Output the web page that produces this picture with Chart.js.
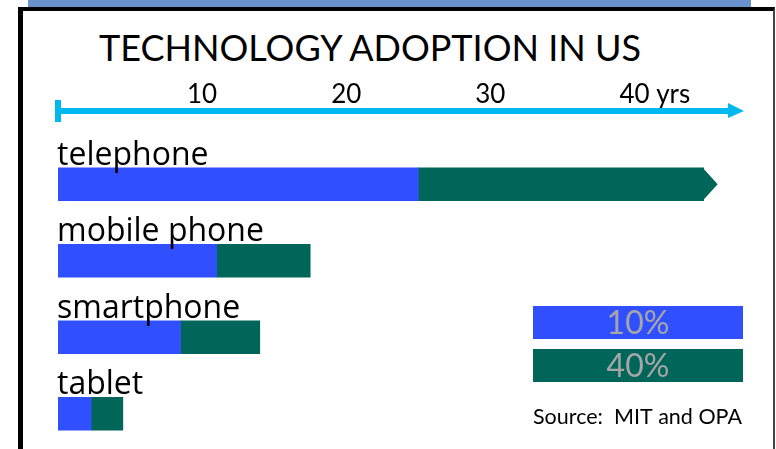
<!DOCTYPE html>
<html>
<head>
<meta charset="utf-8">
<script src="https://cdn.jsdelivr.net/npm/chart.js@4.4.0/dist/chart.umd.min.js"></script>
<style>
  html, body { margin: 0; padding: 0; background: #fff; overflow: hidden; }
  #wrap { position: relative; width: 776px; height: 449px; overflow: hidden; }
  #band { position: absolute; left: 28px; top: 0; width: 723px; height: 8px; background: #6991cb; }
  #frame { position: absolute; left: 18px; top: 7px; width: 750px; height: 460px;
           border-left: 5px solid #000; border-top: 4px solid #000; border-right: 2px solid #444; }
  #title { position: absolute; left: 99px; top: 29px; font: 36px Lato, sans-serif; line-height: 36px;
           color: #000; white-space: nowrap; }
  #chartBox { position: absolute; left: 0; top: 0; width: 776px; height: 452px; }
</style>
</head>
<body>
<div id="wrap">
  <div id="band"></div>
  <div id="frame"></div>
  <div id="title">TECHNOLOGY ADOPTION IN US</div>
  <div id="chartBox"><canvas id="adoptionChart"></canvas></div>
</div>
<script>
// years to reach 10% of households, then extra years to go from 10% to 40%
const categories = ['telephone', 'mobile phone', 'smartphone', 'tablet'];
const yearsTo10 = [25, 11, 8.5, 2.3];
const yearsFrom10To40 = [19.8, 6.5, 5.5, 2.2];
const seriesLabels = ['10%', '40%'];
const seriesColors = ['#3050ff', '#00665a'];
const tickValues = [10, 20, 30, 40];
const axisUnit = 'yrs';
const sourceNote = 'Source:  MIT and OPA';

const AXIS_COLOR = '#00b8f0';

const decorPlugin = {
    id: 'decor',
    afterDatasetsDraw(chart) {
        const ctx = chart.ctx;
        const xs = chart.scales.x;
        const x0 = xs.getPixelForValue(0);
        ctx.save();

        // category names above each bar
        ctx.fillStyle = '#000';
        ctx.font = '32px "Open Sans", sans-serif';
        ctx.textBaseline = 'alphabetic';
        ctx.textAlign = 'left';
        chart.getDatasetMeta(0).data.forEach(function(bar, i) {
            ctx.fillText(categories[i], x0 - 1, bar.y - bar.height / 2 - 3);
        });

        // arrow tip on the telephone bar
        const tip = chart.getDatasetMeta(1).data[0];
        ctx.fillStyle = seriesColors[1];
        ctx.beginPath();
        ctx.moveTo(tip.x - 1, tip.y - tip.height / 2);
        ctx.lineTo(tip.x + 14, tip.y);
        ctx.lineTo(tip.x - 1, tip.y + tip.height / 2);
        ctx.closePath();
        ctx.fill();

        // time axis line with arrow
        const ay = 111;
        ctx.fillStyle = AXIS_COLOR;
        ctx.fillRect(x0, ay - 3, xs.right - 16 - x0, 6);
        ctx.fillRect(x0 - 3, ay - 11, 6, 22);
        ctx.beginPath();
        ctx.moveTo(xs.right - 16, ay - 8);
        ctx.lineTo(xs.right, ay);
        ctx.lineTo(xs.right - 16, ay + 7);
        ctx.closePath();
        ctx.fill();

        // unit after the last tick
        ctx.fillStyle = '#000';
        ctx.font = '26px Lato, sans-serif';
        const last = tickValues[tickValues.length - 1];
        const lastW = ctx.measureText(String(last)).width;
        ctx.fillText(' ' + axisUnit, xs.getPixelForValue(last) + lastW / 2, 103);

        // legend boxes
        const lx = 533, lw = 210, lh = 33;
        const ly = [306, 349];
        ctx.font = '32px Lato, sans-serif';
        ctx.textAlign = 'center';
        ctx.textBaseline = 'middle';
        seriesLabels.forEach(function(lbl, i) {
            ctx.fillStyle = seriesColors[i];
            ctx.fillRect(lx, ly[i], lw, lh);
            ctx.fillStyle = '#a6a6a6';
            ctx.fillText(lbl, lx + lw / 2, ly[i] + lh / 2 + 1);
        });

        ctx.fillStyle = '#000';
        ctx.font = '21.5px Lato, sans-serif';
        ctx.textAlign = 'left';
        ctx.textBaseline = 'alphabetic';
        ctx.fillText(sourceNote, lx, 424);
        ctx.restore();
    }
};

const ctx = document.getElementById('adoptionChart').getContext('2d');
new Chart(ctx, {
    type: 'bar',
    data: {
        labels: categories,
        datasets: [{
            label: seriesLabels[0],
            data: yearsTo10,
            backgroundColor: seriesColors[0],
            borderWidth: 0,
            barThickness: 33
        }, {
            label: seriesLabels[1],
            data: yearsFrom10To40,
            backgroundColor: seriesColors[1],
            borderWidth: 0,
            barThickness: 33
        }]
    },
    options: {
        indexAxis: 'y',
        responsive: true,
        maintainAspectRatio: false,
        animation: false,
        layout: { padding: { left: 58, right: 32, top: 0, bottom: 0 } },
        scales: {
            x: {
                type: 'linear',
                position: 'top',
                min: 0,
                max: 47.6,
                stacked: true,
                grid: { display: false },
                border: { display: false },
                ticks: {
                    stepSize: 10,
                    autoSkip: false,
                    maxRotation: 0,
                    padding: 28,
                    color: '#000',
                    font: { family: 'Lato', size: 26 },
                    callback: function(v) {
                        return tickValues.includes(v) ? String(v) : '';
                    }
                },
                afterFit: function(scale) { scale.height = 146; }
            },
            y: {
                type: 'category',
                display: false,
                stacked: true
            }
        },
        plugins: {
            legend: { display: false },
            tooltip: { enabled: false }
        }
    },
    plugins: [decorPlugin]
});
</script>
</body>
</html>
